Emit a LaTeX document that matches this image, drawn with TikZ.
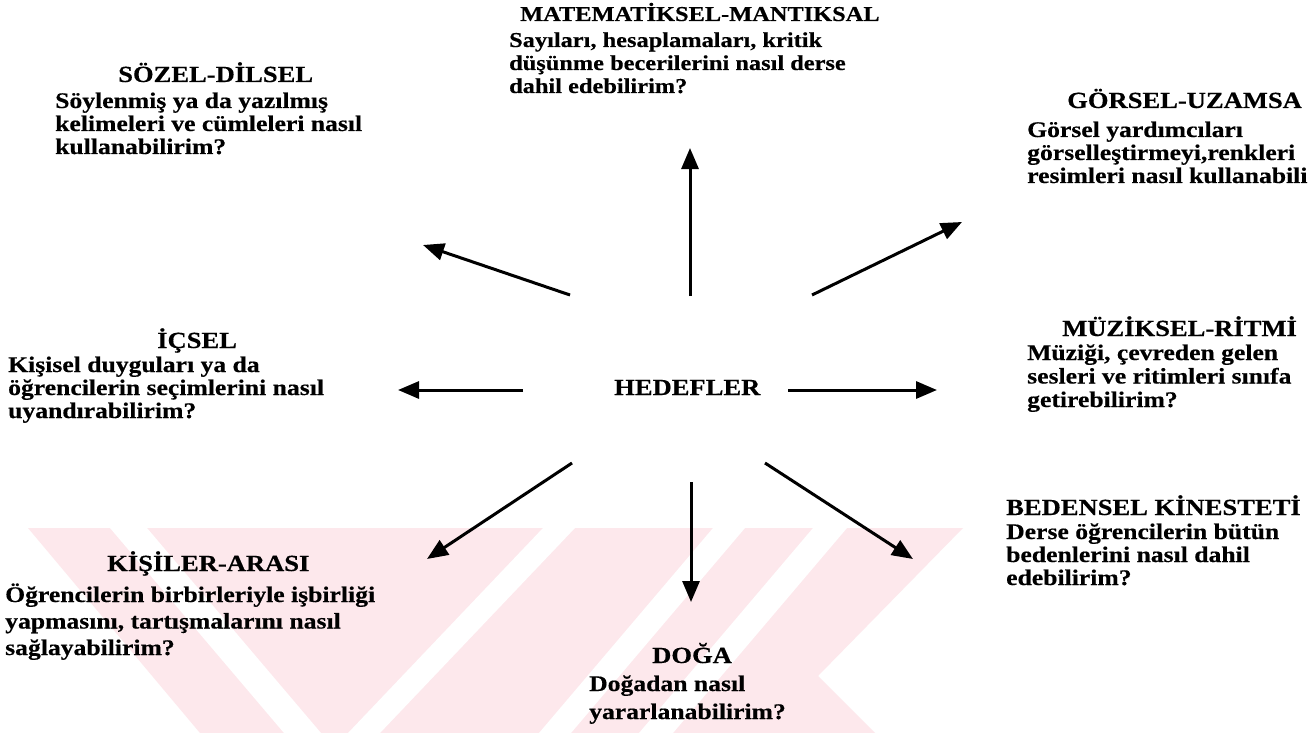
\documentclass[tikz,border=0pt]{standalone}
\usepackage{fontspec}
\setmainfont{Liberation Serif}[FakeStretch=1.15, BoldFeatures={FakeBold=0.4}]
\usetikzlibrary{arrows.meta}
\definecolor{wmpink}{RGB}{253,232,236}
\newcommand\tblines[2]{\vtop{\baselineskip=#1\lineskiplimit=-100pt\lineskip=0pt #2}}
\tikzset{
  bodytxt/.style={inner sep=0pt, anchor=base west, font=\bfseries\fontsize{22.3}{23}\selectfont},
  titletxt/.style={inner sep=0pt, anchor=base west, font=\bfseries\fontsize{23.1}{24}\selectfont},
  smallbody/.style={bodytxt, font=\bfseries\fontsize{21.2}{23}\selectfont},
  smalltitle/.style={titletxt, font=\bfseries\fontsize{21.2}{23}\selectfont},
  arr/.style={line width=3pt, -{Triangle[length=21pt,width=17pt]}},
}
\begin{document}
\begin{tikzpicture}[x=1pt,y=-1pt]
\useasboundingbox (0,0) rectangle (1314,733);
\clip (0,0) rectangle (1314,733);
\fill[white] (0,0) rectangle (1314,733);
% watermark
\fill[wmpink] (28,528) -- (963,528) -- (818,676) -- (875,733) -- (200,733) -- cycle;
\fill[white] (110,528) -- (147,528) -- (321,733) -- (284,733) -- cycle;
\fill[white] (543,528) -- (575,528) -- (380,733) -- (348,733) -- cycle;
\fill[white] (713,528) -- (745,528) -- (571,733) -- (539,733) -- cycle;
\fill[white] (813,528) -- (847,528) -- (673,733) -- (639,733) -- cycle;

% centre
\node[titletxt] (hed) at (614,395) {HEDEFLER};

% labels
\node[smalltitle] (matT) at (520,21) {MATEMATİKSEL-MANTIKSAL};
\node[smallbody] (matB) at (509,47) {\tblines{23pt}{\hbox{Sayıları, hesaplamaları, kritik}\hbox{düşünme becerilerini nasıl derse}\hbox{dahil edebilirim?}}};

\node[titletxt] (sozT) at (118,82) {SÖZEL-DİLSEL};
\node[bodytxt] (sozB) at (55,108) {\tblines{23pt}{\hbox{Söylenmiş ya da yazılmış}\hbox{kelimeleri ve cümleleri nasıl}\hbox{kullanabilirim?}}};

\node[titletxt] (gorT) at (1067,108) {GÖRSEL-UZAMSA};
\node[bodytxt] (gorB) at (1027,137) {\tblines{23pt}{\hbox{Görsel yardımcıları}\hbox{görselleştirmeyi,renkleri}\hbox{resimleri nasıl kullanabili}}};

\node[titletxt] (muzT) at (1062,336) {MÜZİKSEL-RİTMİ};
\node[bodytxt] (muzB) at (1027,360) {\tblines{23.5pt}{\hbox{Müziği, çevreden gelen}\hbox{sesleri ve ritimleri sınıfa}\hbox{getirebilirim?}}};

\node[titletxt] (icT) at (157,348) {İÇSEL};
\node[bodytxt] (icB) at (8,372) {\tblines{23pt}{\hbox{Kişisel duyguları ya da}\hbox{öğrencilerin seçimlerini nasıl}\hbox{uyandırabilirim?}}};

\node[titletxt] (bedT) at (1006,515) {BEDENSEL KİNESTETİ};
\node[bodytxt] (bedB) at (1006,539) {\tblines{23pt}{\hbox{Derse öğrencilerin bütün}\hbox{bedenlerini nasıl dahil}\hbox{edebilirim?}}};

\node[titletxt] (kisT) at (107,571) {KİŞİLER-ARASI};
\node[bodytxt] (kisB) at (5,602) {\tblines{26.5pt}{\hbox{Öğrencilerin birbirleriyle işbirliği}\hbox{yapmasını, tartışmalarını nasıl}\hbox{sağlayabilirim?}}};

\node[titletxt] (dogT) at (652,663) {DOĞA};
\node[bodytxt] (dogB) at (589,691) {\tblines{28pt}{\hbox{Doğadan nasıl}\hbox{yararlanabilirim?}}};

% arrow end points
\coordinate (upS) at (690,296);  \coordinate (upE) at (690,148);
\coordinate (ulS) at (570,295);  \coordinate (ulE) at (423,245);
\coordinate (urS) at (812,295);  \coordinate (urE) at (962,222);
\coordinate (lS) at (523,390);   \coordinate (lE) at (398,390);
\coordinate (rS) at (788,390);   \coordinate (rE) at (937,390);
\coordinate (llS) at (572,463);  \coordinate (llE) at (427,559);
\coordinate (dS) at (691,482);   \coordinate (dE) at (691,602);
\coordinate (lrS) at (765,463);  \coordinate (lrE) at (913,559);

\draw[arr] (upS) -- (upE);
\draw[arr] (ulS) -- (ulE);
\draw[arr] (urS) -- (urE);
\draw[arr] (lS) -- (lE);
\draw[arr] (rS) -- (rE);
\draw[arr] (llS) -- (llE);
\draw[arr] (dS) -- (dE);
\draw[arr] (lrS) -- (lrE);
\end{tikzpicture}
\end{document}
